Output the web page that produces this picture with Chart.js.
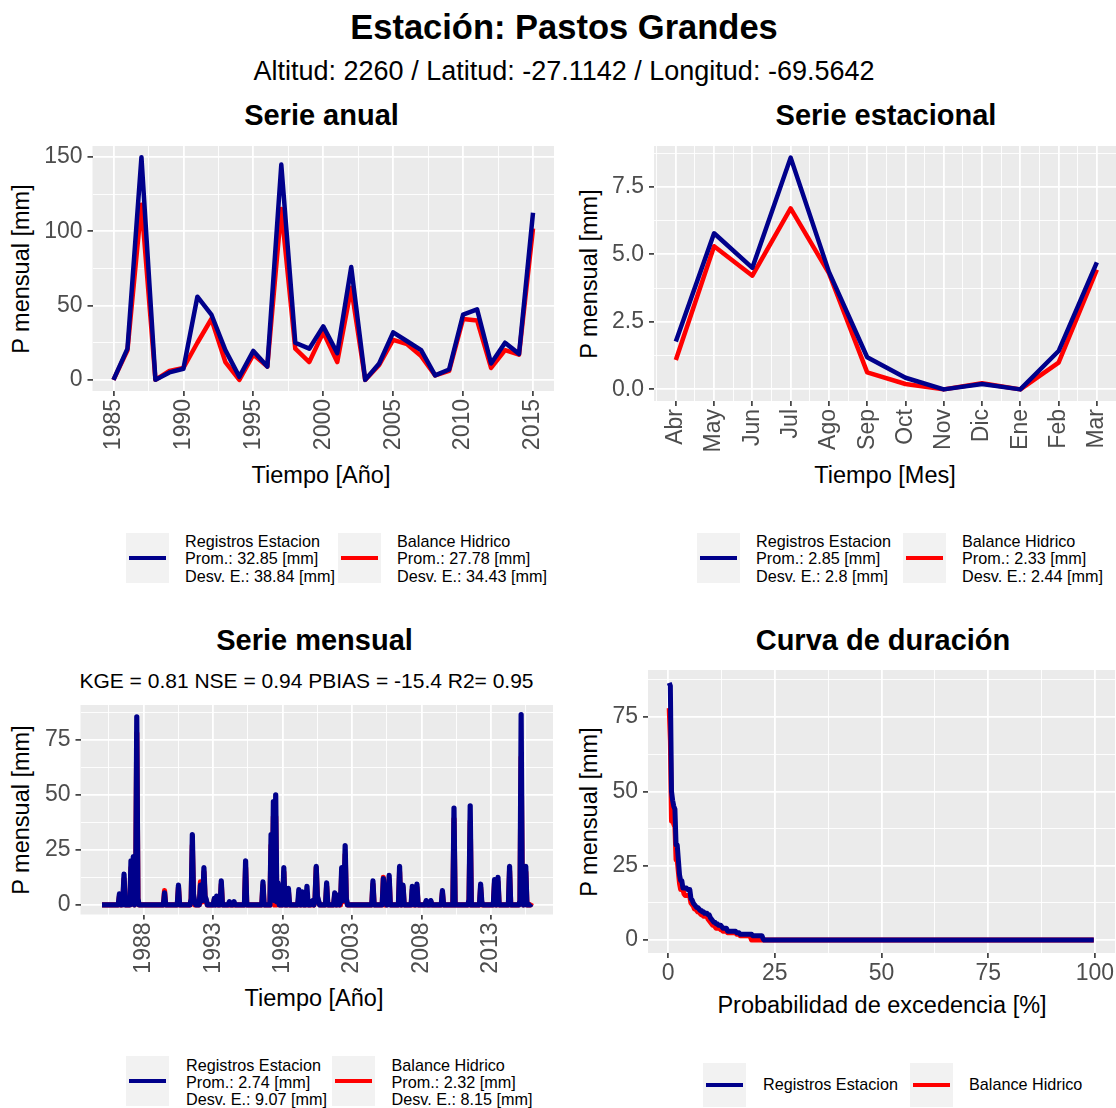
<!DOCTYPE html>
<html>
<head>
<meta charset="utf-8">
<script src="https://cdn.jsdelivr.net/npm/chart.js@4.4.1/dist/chart.umd.min.js"></script>
<style>
  body { margin: 0; width: 1116px; height: 1108px; background: #fff; position: relative; overflow: hidden;
         font-family: "Liberation Sans", Arial, sans-serif; }
  .t { position: absolute; white-space: nowrap; line-height: 1; color: #000; }
  canvas { position: absolute; }
  .key { position: absolute; background: #f2f2f2; }
  .key span { position: absolute; left: 3px; right: 3px; height: 4.5px; }
  .lt { position: absolute; font-size: 16.2px; line-height: 17.4px; white-space: nowrap; color: #000; }
</style>
</head>
<body>
<script>
// ---------------------------
// Datos
const years = [1985, 1986, 1987, 1988, 1989, 1990, 1991, 1992, 1993, 1994, 1995, 1996, 1997, 1998, 1999, 2000,
               2001, 2002, 2003, 2004, 2005, 2006, 2007, 2008, 2009, 2010, 2011, 2012, 2013, 2014, 2015];
const anualRegistros = [0, 21, 150, 0, 5, 7.5, 56, 44, 20, 2, 19.5, 9, 145, 25, 21, 36,
                        18, 76, 0, 11, 32, 26, 20, 3, 7, 44, 47.5, 11, 25, 17.5, 112.5];
const anualBalance   = [0, 20, 118, 0, 6, 8, 25, 41, 12, 0, 17, 9, 115, 21, 12, 32,
                        12, 62, 0, 10, 27, 24, 16, 3, 6, 41, 40, 8, 20, 17, 102];

const meses = ['Abr', 'May', 'Jun', 'Jul', 'Ago', 'Sep', 'Oct', 'Nov', 'Dic', 'Ene', 'Feb', 'Mar'];
const estRegistros = [1.77, 5.78, 4.5, 8.58, 4.35, 1.19, 0.43, 0, 0.2, 0, 1.42, 4.7];
const estBalance   = [1.09, 5.3, 4.21, 6.7, 4.3, 0.63, 0.2, 0, 0.23, 0, 0.99, 4.43];

// mensual: una fila por anio (Ene..Dic), 1985-2015
const mensRegistros = [
  0, 0, 0, 0, 0, 0, 0, 0, 0, 0, 0, 0,
  0, 0, 0, 5, 0, 0, 2.5, 14, 0, 0, 0, 0,
  0, 20, 6, 22, 0, 4, 85.5, 3, 0, 0, 0, 0,
  0, 0, 0, 0, 0, 0, 0, 0, 0, 0, 0, 0,
  0, 0, 0, 0, 0, 0, 5.5, 0, 0, 0, 0, 0,
  0, 0, 0, 0, 0, 0, 9, 0, 0, 0, 0, 0,
  0, 0, 0, 0, 0, 3, 32, 5, 1.5, 0, 0, 0,
  0, 9, 3, 2, 17, 4, 2.5, 0, 0, 0, 0, 0,
  0, 3, 0, 4, 0, 0, 0, 11, 0, 0, 0, 0,
  0, 0, 1.5, 0, 0, 0, 1.5, 0, 0, 0, 0, 0,
  0, 0, 0, 0, 20, 0, 0, 0, 0, 0, 0, 0,
  0, 0, 0, 0, 0, 0, 0, 10.5, 0, 0, 0, 0,
  0, 0, 32, 3, 47, 2, 50, 1.5, 10, 0, 0, 0,
  0, 17, 0, 0, 0, 7.5, 0, 0, 0, 0, 0, 0,
  0, 0, 7, 0, 0, 6, 0, 0, 0, 8.5, 0, 0,
  0, 1.5, 2, 0, 3, 17.5, 4, 2, 0, 0, 0, 0,
  0, 0, 10, 0, 0, 0, 0, 0, 0, 5.5, 0, 0,
  4.5, 0, 1.5, 17, 2, 5, 27, 3, 0, 0, 0, 0,
  0, 0, 0, 0, 0, 0, 0, 0, 0, 0, 0, 0,
  0, 0, 0, 0, 0, 0, 11, 0, 0, 0, 0, 0,
  0, 0, 0, 12, 1.5, 2, 0, 2, 13.5, 0, 0, 0,
  0, 0, 0, 0, 0, 17.5, 0, 0, 9, 0, 0, 0,
  0, 0, 0, 0, 8.5, 1.5, 0, 0, 9.5, 0, 0, 0,
  0, 0, 0, 0, 2, 0, 0, 0, 2, 0, 0, 0,
  0, 0, 0, 0, 0, 0, 6.5, 0, 0, 0, 0, 0,
  0, 0, 0, 0, 44, 0, 0, 0, 0, 0, 0, 0,
  0, 0, 0, 0, 0, 2.5, 45, 0, 0, 0, 0, 0,
  0, 0, 0, 9.5, 1.5, 0, 0, 0, 0, 0, 0, 0,
  0, 0, 0, 11.5, 0, 0, 12.5, 0, 0, 0, 0, 0,
  0, 0, 0, 0, 17.5, 0, 0, 0, 0, 0, 0, 0,
  0, 2, 86.5, 3, 0, 2, 17.5, 0, 0, 0, 0, 0.5
];
const mensBalance = [
  0, 0, 0, 0, 0, 0, 0, 0, 0, 0, 0, 0,
  0, 0, 0, 4, 0, 0, 2, 12, 0, 0, 0, 0,
  0, 17, 5, 19, 0, 3, 78, 2.5, 0, 0, 0, 0,
  0, 0, 0, 0, 0, 0, 0, 0, 0, 0, 0, 0,
  0, 0, 0, 0, 0, 0, 6.5, 0, 0, 0, 0, 0,
  0, 0, 0, 0, 0, 0, 8, 0, 0, 0, 0, 0,
  0, 0, 0, 0, 0, 2.5, 27, 4, 0, 0, 0, 0,
  0, 10.5, 2.5, 1.5, 15, 3, 2, 0, 0, 0, 0, 0,
  0, 2.5, 0, 3, 0, 0, 0, 9.5, 0, 0, 0, 0,
  0, 0, 0, 0, 0, 0, 0, 0, 0, 0, 0, 0,
  0, 0, 0, 0, 17, 0, 0, 0, 0, 0, 0, 0,
  0, 0, 0, 0, 0, 0, 0, 9, 0, 0, 0, 0,
  0, 0, 27, 2.5, 40, 0, 40, 0, 8.5, 0, 0, 0,
  0, 15, 0, 0, 0, 6, 0, 0, 0, 0, 0, 0,
  0, 0, 4, 0, 0, 3, 0, 0, 0, 5, 0, 0,
  0, 0, 1.5, 0, 2.5, 17, 3.5, 1.5, 0, 0, 0, 0,
  0, 0, 8.5, 0, 0, 0, 0, 0, 0, 4.5, 0, 0,
  3.5, 0, 0, 14.5, 1.5, 4, 23, 2.5, 0, 0, 0, 0,
  0, 0, 0, 0, 0, 0, 0, 0, 0, 0, 0, 0,
  0, 0, 0, 0, 0, 0, 9.5, 0, 0, 0, 0, 0,
  0, 0, 0, 12.5, 0, 0, 0, 1.5, 11.5, 0, 0, 0,
  0, 0, 0, 0, 0, 15, 0, 0, 8, 0, 0, 0,
  0, 0, 0, 0, 7, 0, 0, 0, 8, 0, 0, 0,
  0, 0, 0, 0, 1.5, 0, 0, 0, 1.5, 0, 0, 0,
  0, 0, 0, 0, 0, 0, 5.5, 0, 0, 0, 0, 0,
  0, 0, 0, 0, 39, 0, 0, 0, 0, 0, 0, 0,
  0, 0, 0, 0, 0, 2, 38, 0, 0, 0, 0, 0,
  0, 0, 0, 8, 0, 0, 0, 0, 0, 0, 0, 0,
  0, 0, 0, 10, 0, 0, 10.5, 0, 0, 0, 0, 0,
  0, 0, 0, 0, 15.5, 0, 0, 0, 0, 0, 0, 0,
  0, 1.5, 67, 2.5, 0, 1.5, 15, 0, 0, 0, 0, 1
];

// etiquetas de ejes
const anualXTicks = [1985, 1990, 1995, 2000, 2005, 2010, 2015];
const anualYTicks = [0, 50, 100, 150];
const estYTicks = [0, 2.5, 5, 7.5];
const mensXTicks = [1988, 1993, 1998, 2003, 2008, 2013];
const mensYTicks = [0, 25, 50, 75];
const durXTicks = [0, 25, 50, 75, 100];

// ---------------------------
const FONT = '"Liberation Sans", Arial, sans-serif';
const AZUL = '#00008b';
const ROJO = '#ff0000';

// fondo gris del panel (estilo ggplot)
const panelBg = {
  id: 'panelBg',
  beforeDraw(chart) {
    const a = chart.chartArea, ctx = chart.ctx;
    ctx.save();
    ctx.fillStyle = '#ebebeb';
    ctx.fillRect(a.left, a.top, a.right - a.left, a.bottom - a.top);
    ctx.restore();
  }
};

// eje con grilla mayor + menor
function axis(o) {
  const minor = [];
  for (let v = o.major[0] - o.step / 2; v < o.max; v += o.step) {
    if (v > o.min) minor.push(v);
  }
  return {
    type: 'linear', min: o.min, max: o.max,
    afterBuildTicks: s => {
      s.ticks = o.major.map(v => ({ value: v }))
        .concat(minor.map(v => ({ value: v, minor: true })))
        .sort((a, b) => a.value - b.value);
    },
    afterFit: s => {
      if (o.isX) s.height = o.size; else s.width = o.size;
      s.paddingTop = s.paddingBottom = s.paddingLeft = s.paddingRight = 0;
    },
    border: { display: false },
    grid: {
      color: '#ffffff',
      lineWidth: c => (c.tick && c.tick.minor ? 0.9 : 1.8),
      drawTicks: true, tickLength: 5, tickWidth: 1.6,
      tickColor: c => (c.tick && c.tick.minor ? 'rgba(0,0,0,0)' : '#333333')
    },
    ticks: {
      autoSkip: false, color: '#4d4d4d', font: { family: FONT, size: 23 },
      padding: o.pad, minRotation: o.rot || 0, maxRotation: o.rot || 0,
      callback: (v, i, t) => (t[i].minor ? '' : o.fmt(v))
    }
  };
}

function line(data, color, w) {
  return { data, borderColor: color, borderWidth: w || 4.5, pointRadius: 0, tension: 0, fill: false,
           borderJoinStyle: 'round', borderCapStyle: 'butt' };
}

function panel(r, datasets, xs, ys, padRight) {
  const c = document.createElement('canvas');
  c.width = r.w; c.height = r.h;
  c.style.left = r.x + 'px'; c.style.top = r.y + 'px';
  document.body.appendChild(c);
  return new Chart(c, {
    type: 'line',
    data: { datasets },
    options: {
      responsive: false, animation: false, devicePixelRatio: 1, events: [],
      layout: { padding: { top: 10, right: padRight, bottom: 0, left: 0 } },
      plugins: { legend: { display: false }, tooltip: { enabled: false } },
      scales: { x: xs, y: ys }
    },
    plugins: [panelBg]
  });
}

// ---------------------------
// textos
function addText(txt, x, y, size, opt = {}) {
  const d = document.createElement('div');
  d.className = 't';
  d.textContent = txt;
  d.style.fontSize = size + 'px';
  if (opt.bold) d.style.fontWeight = 'bold';
  d.style.left = x + 'px';
  if (opt.rotate) {
    d.style.top = y + 'px';
    d.style.transform = 'translate(-50%,-50%) rotate(-90deg)';
  } else {
    d.style.top = (y - 0.8465 * size) + 'px';   // y = linea base
    d.style.transform = 'translateX(-50%)';
  }
  document.body.appendChild(d);
}

function addLegend(items, top, boxH, textTop) {
  items.forEach(it => {
    const k = document.createElement('div');
    k.className = 'key';
    k.style.left = it.kx + 'px'; k.style.top = top + 'px';
    k.style.width = '43px'; k.style.height = boxH + 'px';
    const s = document.createElement('span');
    s.style.background = it.color;
    s.style.top = (boxH / 2 - 2.25) + 'px';
    k.appendChild(s);
    document.body.appendChild(k);
    const t = document.createElement('div');
    t.className = 'lt';
    t.style.left = it.tx + 'px'; t.style.top = textTop + 'px';
    t.innerHTML = it.lines.join('<br>');
    document.body.appendChild(t);
  });
}

addText('Estación: Pastos Grandes', 564, 39, 34.5, { bold: true });
addText('Altitud: 2260 / Latitud: -27.1142 / Longitud: -69.5642', 564, 81, 27);

addText('Serie anual', 321.5, 126, 29, { bold: true });
addText('Serie estacional', 886, 126, 29, { bold: true });
addText('Serie mensual', 314.5, 651, 29, { bold: true });
addText('Curva de duración', 883, 651, 29, { bold: true });
addText('KGE = 0.81 NSE = 0.94 PBIAS = -15.4 R2= 0.95', 306.5, 688, 21);

addText('Tiempo [Año]', 321, 484, 23.5);
addText('Tiempo [Mes]', 885, 484, 23.5);
addText('Tiempo [Año]', 314, 1007, 23.5);
addText('Probabilidad de excedencia [%]', 882, 1014, 23.5);

addText('P mensual [mm]', 22, 268.5, 23.5, { rotate: true });
addText('P mensual [mm]', 590, 273.5, 23.5, { rotate: true });
addText('P mensual [mm]', 22, 810, 23.5, { rotate: true });
addText('P mensual [mm]', 590, 811.5, 23.5, { rotate: true });

addLegend([
  { kx: 126, tx: 185, color: AZUL, lines: ['Registros Estacion', 'Prom.: 32.85 [mm]', 'Desv. E.: 38.84 [mm]'] },
  { kx: 337.5, tx: 397, color: ROJO, lines: ['Balance Hidrico', 'Prom.: 27.78 [mm]', 'Desv. E.: 34.43 [mm]'] }
], 533, 50, 533);
addLegend([
  { kx: 697, tx: 756, color: AZUL, lines: ['Registros Estacion', 'Prom.: 2.85 [mm]', 'Desv. E.: 2.8 [mm]'] },
  { kx: 903, tx: 962, color: ROJO, lines: ['Balance Hidrico', 'Prom.: 2.33 [mm]', 'Desv. E.: 2.44 [mm]'] }
], 533, 50, 533);
addLegend([
  { kx: 126, tx: 186, color: AZUL, lines: ['Registros Estacion', 'Prom.: 2.74 [mm]', 'Desv. E.: 9.07 [mm]'] },
  { kx: 331.5, tx: 391.5, color: ROJO, lines: ['Balance Hidrico', 'Prom.: 2.32 [mm]', 'Desv. E.: 8.15 [mm]'] }
], 1056, 50, 1056.5);
addLegend([
  { kx: 703, tx: 763, color: AZUL, lines: ['Registros Estacion'] },
  { kx: 910, tx: 969, color: ROJO, lines: ['Balance Hidrico'] }
], 1063, 44, 1076.3);

// ---------------------------
// Serie anual
panel({ x: 0, y: 136, w: 560, h: 325 },
  [line(years.map((y, i) => ({ x: y, y: anualRegistros[i] })), AZUL),
   line(years.map((y, i) => ({ x: y, y: anualBalance[i] })), ROJO)],
  axis({ isX: true, min: 1983.5, max: 2016.5, major: anualXTicks, step: 5, size: 70, rot: 90, pad: 3, fmt: v => String(v) }),
  axis({ min: -7.5, max: 157.5, major: anualYTicks, step: 50, size: 92.5, pad: 5, fmt: v => String(v) }),
  6);

// Serie estacional
panel({ x: 560, y: 136, w: 556, h: 325 },
  [line(estRegistros.map((v, i) => ({ x: i, y: v })), AZUL),
   line(estBalance.map((v, i) => ({ x: i, y: v })), ROJO)],
  axis({ isX: true, min: -0.57, max: 11.5, major: meses.map((m, i) => i), step: 1, size: 60, rot: 90, pad: 3, fmt: v => meses[v] }),
  axis({ min: -0.43, max: 9.01, major: estYTicks, step: 2.5, size: 94, pad: 5, fmt: v => v.toFixed(1) }),
  0);

// Serie mensual
const mensX = [];
years.forEach(y => { for (let m = 0; m < 12; m++) mensX.push(y + m / 12); });
panel({ x: 0, y: 695, w: 560, h: 290 },
  [line(mensX.map((x, i) => ({ x, y: mensRegistros[i] })), AZUL, 5.2),
   line(mensX.map((x, i) => ({ x, y: mensBalance[i] })), ROJO, 5.2)],
  axis({ isX: true, min: 1983.45, max: 2017.46, major: mensXTicks, step: 5, size: 70.5, rot: 90, pad: 3, fmt: v => String(v) }),
  axis({ min: -4.33, max: 90.83, major: mensYTicks, step: 25, size: 80.5, pad: 5, fmt: v => String(v) }),
  7);

// Curva de duracion (valores mensuales ordenados)
function curva(vals) {
  const s = vals.slice().sort((a, b) => b - a);
  return s.map((v, i) => ({ x: (i + 1) / (s.length + 1) * 100, y: v }));
}
panel({ x: 560, y: 660, w: 556, h: 333 },
  [line(curva(mensRegistros), AZUL, 5), line(curva(mensBalance), ROJO, 5)],
  axis({ isX: true, min: -4.7, max: 104.7, major: durXTicks, step: 25, size: 40, pad: 2, fmt: v => String(v) }),
  axis({ min: -4.33, max: 90.83, major: mensYTicks, step: 25, size: 88, pad: 5, fmt: v => String(v) }),
  1);
</script>
</body>
</html>
